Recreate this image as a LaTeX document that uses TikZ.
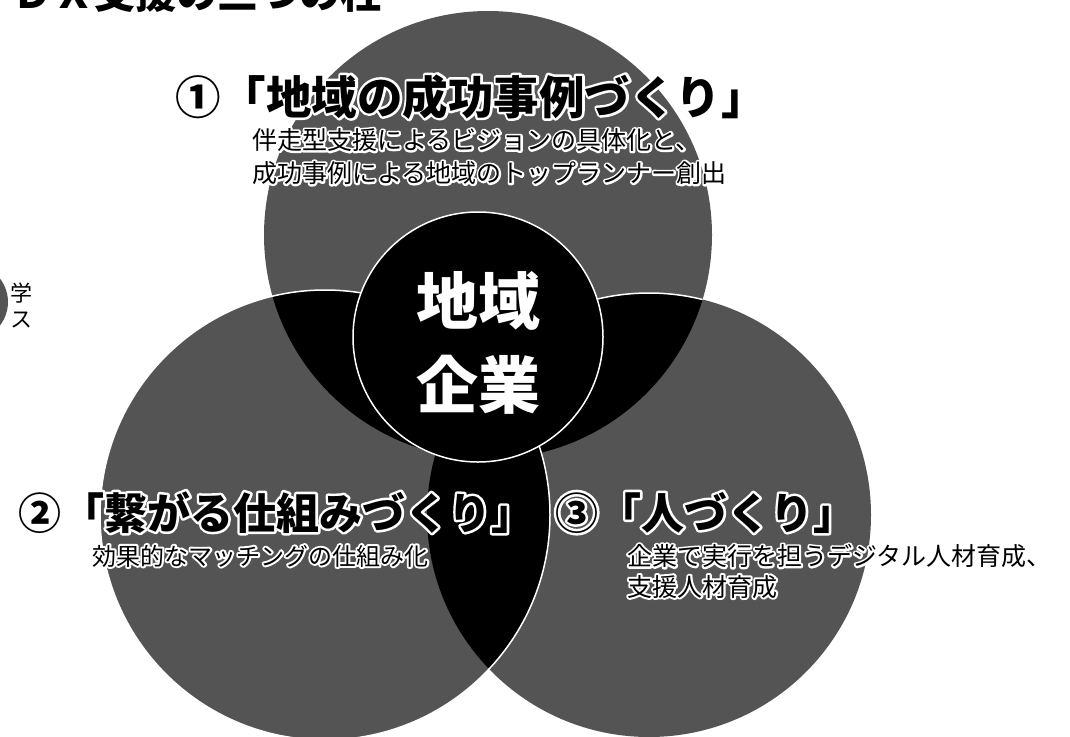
\documentclass[tikz,border=0pt]{standalone}
\usepackage{fontspec}
\setmainfont{Noto Sans CJK JP}
\definecolor{dots}{gray}{0.33}

% text with a white rim: name, x, y (baseline), font, rim width, text
\newcommand\rimtext[6]{%
  \node[lbl, font=#4] (#1h) at (#2,#3)
    {\special{pdf:literal direct 1 Tr 1 G 1 J 1 j #5 w}#6\special{pdf:literal direct 0 Tr}};
  \node[lbl, font=#4] (#1) at (#2,#3) {#6};}

\begin{document}
\begin{tikzpicture}[x=1pt, y=-1pt,
    lbl/.style={anchor=base west, inner sep=0pt},
    pillar/.style={fill=dots},
    rim/.style={draw=white, line width=1.5pt}]
  \useasboundingbox (0,0) rectangle (1070,736);

  \coordinate (top) at (488,235);
  \coordinate (left) at (325,515);
  \coordinate (right) at (649,515);
  \coordinate (core) at (478,337);

  % the three pillars
  \fill[pillar] (top) circle[radius=224];
  \fill[pillar] (left) circle[radius=225];
  \fill[pillar] (right) circle[radius=222];

  % overlaps
  \begin{scope}
    \clip (top) circle[radius=224];
    \fill (left) circle[radius=225];
    \fill (right) circle[radius=222];
    \draw[rim] (right) circle[radius=222];
  \end{scope}
  \begin{scope}
    \clip (left) circle[radius=225];
    \fill (right) circle[radius=222];
  \end{scope}
  \draw[rim] (left) circle[radius=225];

  % centre
  \filldraw[rim, fill=black] (core) circle[radius=125];
  \node[anchor=base, inner sep=0pt, text=white, font=\bfseries\fontsize{62}{62}\selectfont] (chiiki) at (478,324.6) {地域};
  \node[anchor=base, inner sep=0pt, text=white, font=\bfseries\fontsize{62}{62}\selectfont] (kigyou) at (478,408.6) {企業};

  % title, cut at the top edge
  \node[lbl, font=\bfseries\fontsize{41}{41}\selectfont] (title) at (12,9) {ＤＸ支援の三つの柱};

  % scrap of a neighbouring figure
  \fill[pillar] (-30,302) circle[radius=38];
  \node[font=\fontsize{22}{22}\selectfont, inner sep=0pt] (gaku) at (21,293) {学};
  \node[font=\fontsize{22}{22}\selectfont, inner sep=0pt] (su) at (21,320) {ス};

  % labels
  \rimtext{p1}{175}{114}{\bfseries\fontsize{45.5}{45.5}\selectfont}{5}{①「地域の成功事例づくり」}
  \rimtext{p1a}{252}{149.5}{\fontsize{25}{25}\selectfont}{4}{伴走型支援によるビジョンの具体化と、}
  \rimtext{p1b}{252}{182.5}{\fontsize{25}{25}\selectfont}{4}{成功事例による地域のトップランナー創出}

  \rimtext{p2}{18}{529}{\bfseries\fontsize{43}{43}\selectfont}{5}{②「繋がる仕組みづくり」}
  \rimtext{p2a}{92}{565}{\fontsize{24}{24}\selectfont}{4}{効果的なマッチングの仕組み化}

  \rimtext{p3}{555}{529}{\bfseries\fontsize{43}{43}\selectfont}{5}{③「人づくり」}
  \rimtext{p3a}{627}{565.5}{\fontsize{25}{25}\selectfont}{4}{企業で実行を担うデジタル人材育成、}
  \rimtext{p3b}{627}{596}{\fontsize{25}{25}\selectfont}{4}{支援人材育成}
\end{tikzpicture}
\end{document}
